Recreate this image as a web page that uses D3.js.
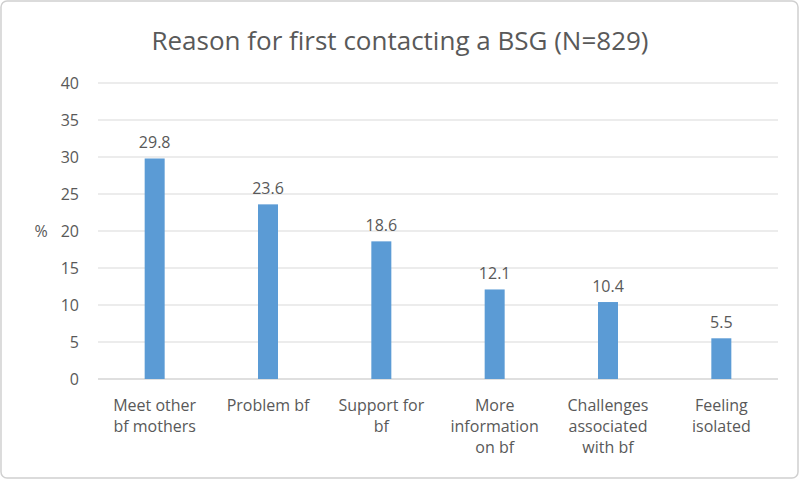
<!DOCTYPE html>
<html><head><meta charset="utf-8">
<script src="https://cdn.jsdelivr.net/npm/d3@7"></script>
<style>body{margin:0;background:#fff}text{font-family:"Open Sans",Calibri,sans-serif;fill:#595959}</style>
</head><body>
<svg id="chart" width="800" height="480"></svg>
<script>
var categories = [["Meet other", "bf mothers"], ["Problem bf"], ["Support for", "bf"], ["More", "information", "on bf"], ["Challenges", "associated", "with bf"], ["Feeling", "isolated"]];
var values = [29.8, 23.6, 18.6, 12.1, 10.4, 5.5];
var yTicks = [0, 5, 10, 15, 20, 25, 30, 35, 40];

var svg = d3.select("#chart");
svg.append("rect").attr("x", 1).attr("y", 1).attr("width", 797).attr("height", 477)
  .attr("rx", 6).style("fill", "#fff").style("stroke", "#d0d0d0").style("stroke-width", 1.5);

var x = d3.scaleBand().domain(d3.range(values.length)).range([98, 778]);
var y = d3.scaleLinear().domain([0, 40]).range([379, 83]);

// gridlines
svg.selectAll(".grid").data(yTicks).enter().append("line")
  .attr("x1", 98).attr("x2", 778)
  .attr("y1", function (d) { return y(d); }).attr("y2", function (d) { return y(d); })
  .style("stroke", function (d) { return d === 0 ? "#bfbfbf" : "#d9d9d9"; });

svg.selectAll(".ytick").data(yTicks).enter().append("text")
  .attr("x", 79).attr("y", function (d) { return y(d) + 6; })
  .attr("text-anchor", "end").style("font-size", "16px").text(function (d) { return d; });

svg.append("text").attr("x", 41).attr("y", 237).attr("text-anchor", "middle")
  .style("font-size", "16px").text("%");

svg.selectAll(".bar").data(values).enter().append("rect")
  .attr("x", function (d, i) { return x(i) + x.bandwidth() / 2 - 10; })
  .attr("width", 20)
  .attr("y", function (d) { return y(d); })
  .attr("height", function (d) { return y(0) - y(d); })
  .style("fill", "#5b9bd5");

svg.selectAll(".lbl").data(values).enter().append("text")
  .attr("x", function (d, i) { return x(i) + x.bandwidth() / 2; })
  .attr("y", function (d) { return y(d) - 10; })
  .attr("text-anchor", "middle").style("font-size", "16px")
  .text(function (d) { return d.toFixed(1); });

categories.forEach(function (lines, i) {
  var t = svg.append("text").attr("text-anchor", "middle").style("font-size", "16px");
  lines.forEach(function (l, j) {
    t.append("tspan").attr("x", x(i) + x.bandwidth() / 2).attr("y", 411 + j * 21).text(l);
  });
});

svg.append("text").attr("x", 400).attr("y", 50).attr("text-anchor", "middle")
  .style("font-size", "26px").text("Reason for first contacting a BSG (N=829)");
</script>
</body></html>
